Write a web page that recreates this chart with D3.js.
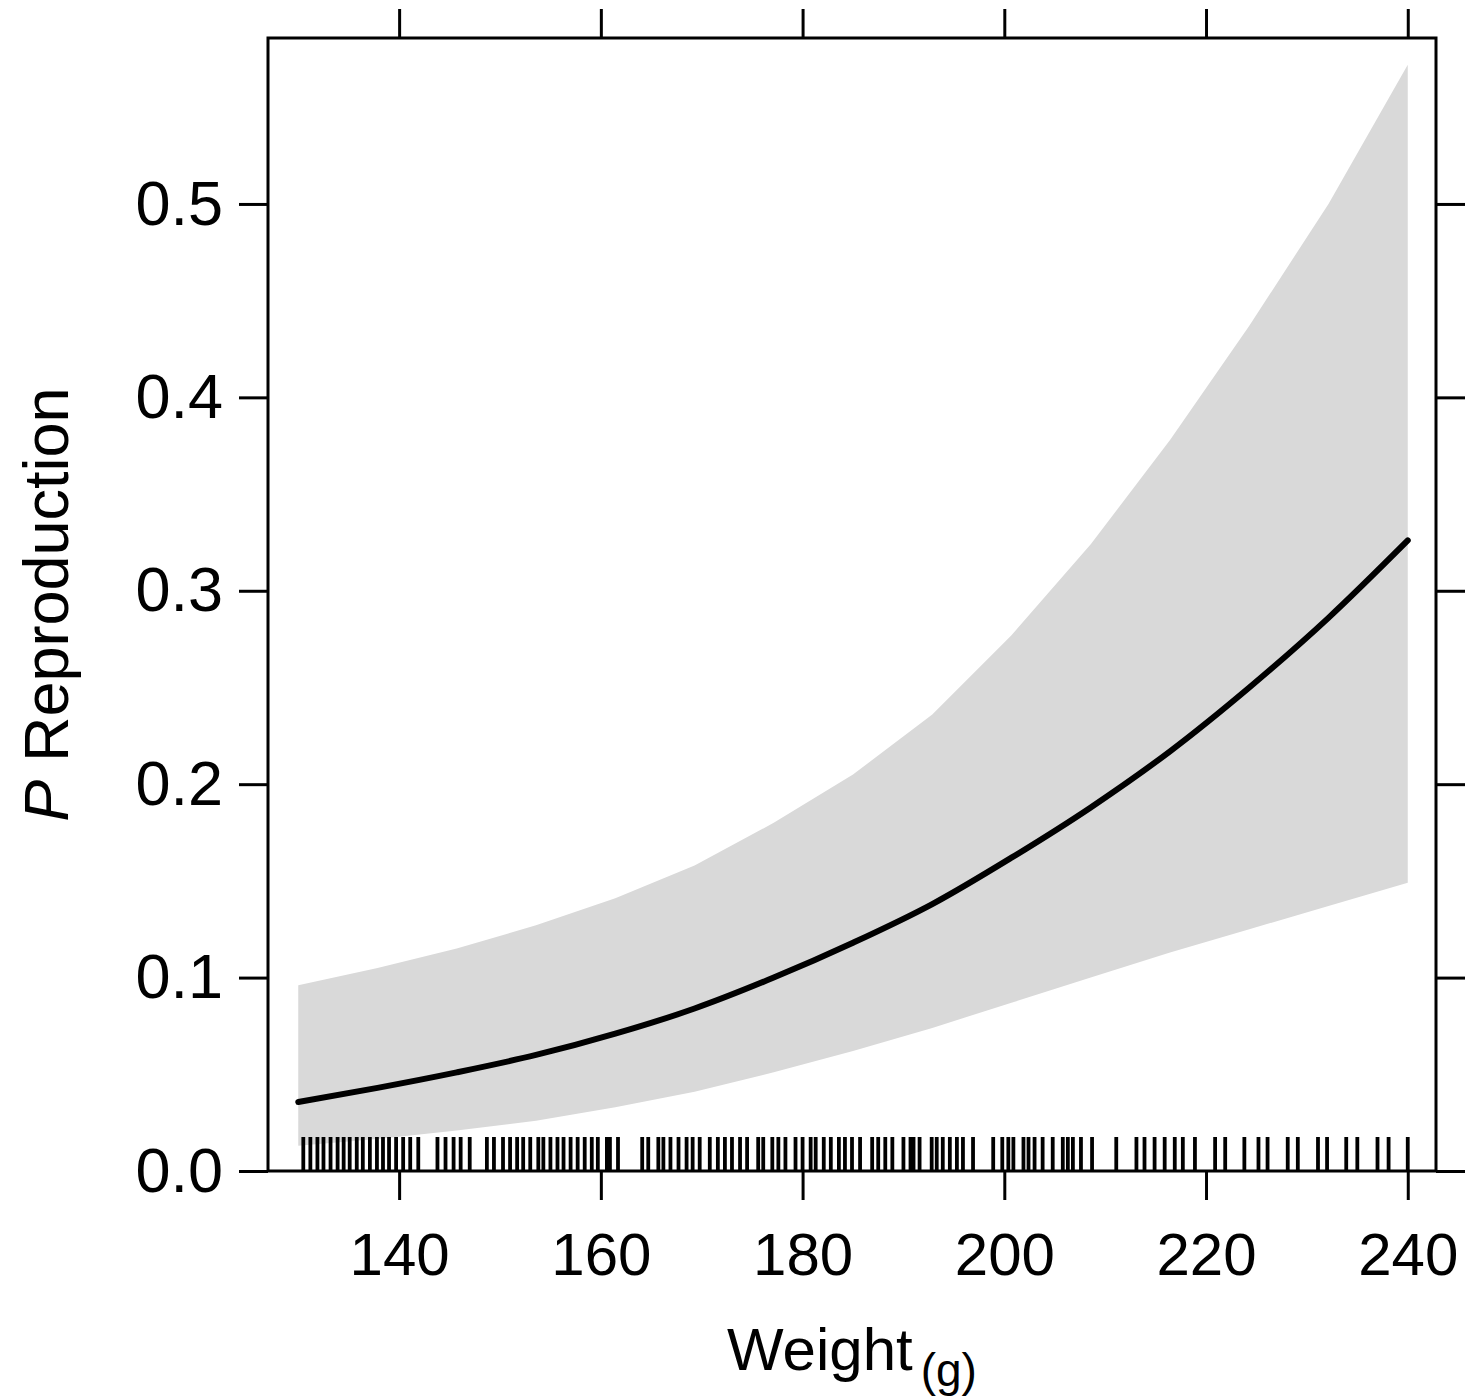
<!DOCTYPE html>
<html>
<head>
<meta charset="utf-8">
<script src="https://cdn.jsdelivr.net/npm/d3@7"></script>
<style>
  html, body { margin: 0; padding: 0; background: #fff; }
  svg { display: block; font-family: "Liberation Sans", Arial, sans-serif; }
</style>
</head>
<body>
<svg id="chart" width="1468" height="1399"></svg>
<script>
// ---- data ----
const weightGrid = [130, 137.86, 145.71, 153.57, 161.43, 169.29, 177.14, 185, 192.86, 200.71, 208.57, 216.43, 224.29, 232.14, 240];
const fitValues   = [0.0357, 0.043, 0.051, 0.060, 0.071, 0.084, 0.100, 0.118, 0.138, 0.162, 0.188, 0.217, 0.250, 0.286, 0.326];
const upperValues = [0.096, 0.105, 0.115, 0.127, 0.141, 0.158, 0.180, 0.205, 0.236, 0.277, 0.324, 0.378, 0.437, 0.500, 0.572];
const lowerValues = [0.013, 0.0165, 0.021, 0.026, 0.033, 0.041, 0.051, 0.062, 0.074, 0.087, 0.100, 0.113, 0.125, 0.137, 0.149];
const rugWeights = [
  130.5, 131.2, 131.9, 132.5, 133.2, 133.9, 134.5, 135.1, 135.8, 136.4, 137.1, 137.8, 138.4, 139.0, 139.7,
  140.4, 141.1, 141.9, 143.8, 144.6, 145.4, 146.1, 147.0, 148.7, 149.4, 150.3, 151.0, 151.7, 152.3, 153.0,
  153.8, 154.3, 155.0, 155.7, 156.3, 157.0, 157.7, 158.4, 159.1, 159.7, 160.6, 160.9, 161.7,
  164.1, 164.7, 165.7, 166.2, 166.9, 167.7, 168.5, 169.1, 169.8, 170.8, 171.6, 172.3, 173.0, 173.8, 174.5,
  175.6, 176.1, 177.0, 177.6, 178.3, 179.3, 180.0, 180.8, 181.3, 182.1, 182.8, 183.6, 184.2, 184.9, 185.7,
  186.9, 187.5, 188.2, 188.9, 190.0, 190.7, 191.0, 191.6, 192.8, 193.3, 193.9, 194.6, 195.3, 195.9, 196.9,
  198.9, 199.8, 200.4, 200.9, 201.9, 202.4, 203.0, 203.8, 204.8, 205.8, 206.3, 206.8, 207.6, 208.7,
  211.1, 213.1, 213.9, 214.9, 215.9, 216.9, 217.7, 218.9, 220.9, 221.9, 223.8, 225.2, 226.1, 228.1, 229.1,
  231.1, 232.0, 233.9, 235.0, 237.0, 238.1, 240.0
];
const xTicks = [140, 160, 180, 200, 220, 240];
const yTicks = [0.0, 0.1, 0.2, 0.3, 0.4, 0.5];
const xTitle = "Weight";
const xTitleSub = "(g)";
const yTitleItalic = "P";
const yTitleRest = " Reproduction";

// ---- layout ----
const svg = d3.select("#chart");
const box = { left: 268, right: 1436, top: 38, bottom: 1171 };
const x = d3.scaleLinear().domain([127.0, 242.8]).range([box.left, box.right]);
const y = d3.scaleLinear().domain([0, 0.5858]).range([box.bottom, box.top]);

const series = weightGrid.map((w, i) => ({ w, fit: fitValues[i], lo: lowerValues[i], hi: upperValues[i] }));

// band
svg.append("path")
  .datum(series)
  .attr("fill", "#d9d9d9")
  .attr("stroke", "none")
  .attr("d", d3.area().x(d => x(d.w)).y0(d => y(d.lo)).y1(d => y(d.hi)));

// rug
svg.append("g").selectAll("line").data(rugWeights).join("line")
  .attr("x1", d => x(d)).attr("x2", d => x(d))
  .attr("y1", box.bottom - 34).attr("y2", box.bottom)
  .attr("stroke", "#000").attr("stroke-width", 3.8);

// fit line
svg.append("path")
  .datum(series)
  .attr("fill", "none")
  .attr("stroke", "#000")
  .attr("stroke-width", 6)
  .attr("stroke-linejoin", "round")
  .attr("stroke-linecap", "round")
  .attr("d", d3.line().curve(d3.curveMonotoneX).x(d => x(d.w)).y(d => y(d.fit)));

// axes
const tickLen = 29;
const axB = svg.append("g").attr("transform", `translate(0,${box.bottom})`)
  .call(d3.axisBottom(x).tickValues(xTicks).tickSize(tickLen).tickPadding(32).tickFormat(d3.format("d")));
const axT = svg.append("g").attr("transform", `translate(0,${box.top})`)
  .call(d3.axisTop(x).tickValues(xTicks).tickSize(tickLen).tickFormat(""));
const axL = svg.append("g").attr("transform", `translate(${box.left},0)`)
  .call(d3.axisLeft(y).tickValues(yTicks).tickSize(tickLen).tickPadding(16).tickFormat(d3.format(".1f")));
const axR = svg.append("g").attr("transform", `translate(${box.right},0)`)
  .call(d3.axisRight(y).tickValues(yTicks).tickSize(tickLen).tickFormat(""));

[axB, axT, axL, axR].forEach(g => {
  g.select(".domain").remove();
  g.selectAll(".tick line").attr("stroke", "#000").attr("stroke-width", 3);
  g.selectAll(".tick text").attr("fill", "#000")
    .attr("font-family", "'Liberation Sans', Arial, sans-serif");
});
axB.selectAll(".tick text").attr("font-size", 60);
axL.selectAll(".tick text").attr("font-size", 63);

// frame
svg.append("rect")
  .attr("x", box.left).attr("y", box.top)
  .attr("width", box.right - box.left).attr("height", box.bottom - box.top)
  .attr("fill", "none").attr("stroke", "#000").attr("stroke-width", 3);

// x title
const xt = svg.append("text")
  .attr("x", 852).attr("y", 1370)
  .attr("text-anchor", "middle").attr("font-size", 60).attr("fill", "#000");
xt.append("tspan").text(xTitle);
xt.append("tspan").attr("font-size", 46).attr("dx", 8).attr("dy", 16).text(xTitleSub);

// y title
const yt = svg.append("text")
  .attr("transform", `translate(68,${(box.top + box.bottom) / 2}) rotate(-90)`)
  .attr("text-anchor", "middle").attr("font-size", 63).attr("fill", "#000");
yt.append("tspan").attr("font-style", "italic").text(yTitleItalic);
yt.append("tspan").text(yTitleRest);
</script>
</body>
</html>
